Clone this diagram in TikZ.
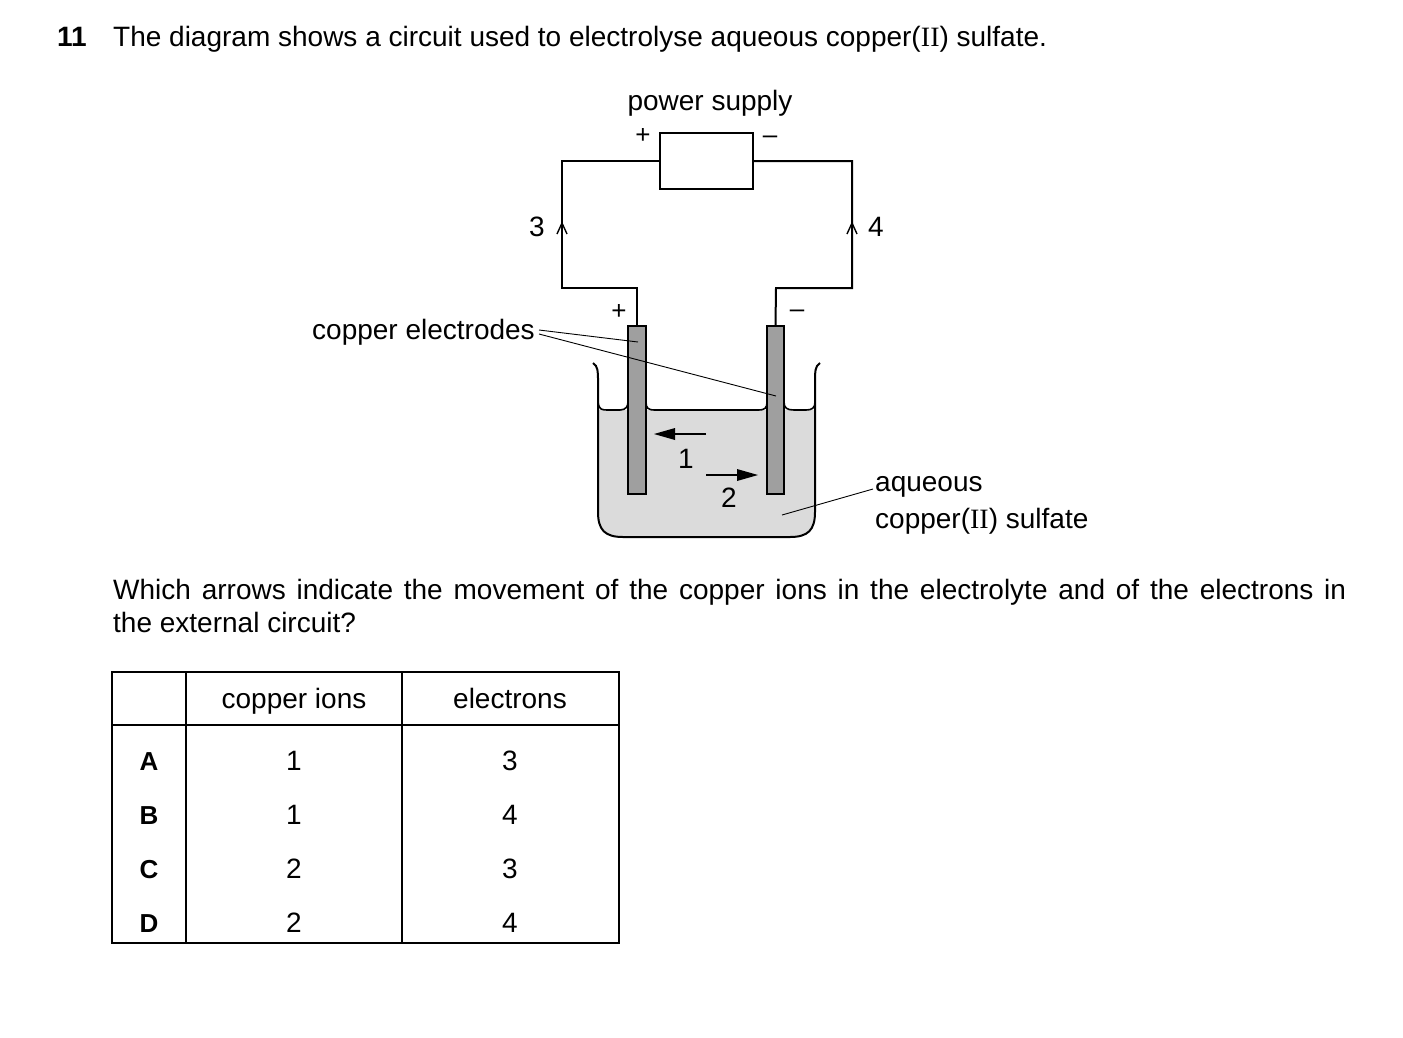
\documentclass[tikz,border=0pt]{standalone}
\usepackage{fontspec}
\setmainfont{Liberation Sans}
\newfontfamily\rmx{Liberation Serif}
\newcommand{\II}{{\rmx II}}
\begin{document}
\begin{tikzpicture}[x=1pt,y=-1pt,
  txt/.style={inner sep=0pt,font=\fontsize{28}{32}\selectfont},
  sm/.style={inner sep=0pt,font=\fontsize{26}{30}\selectfont},
  wire/.style={line width=2pt},
  lead/.style={line width=0.9pt}]
\useasboundingbox (0,0) rectangle (1403,1037);
\fill[white] (0,0) rectangle (1403,1037);
% header
\node[txt,anchor=base west,font=\fontsize{28}{32}\selectfont\bfseries] (q) at (57,46) {11};
\node[txt,anchor=base west] (t1) at (113,46) {The diagram shows a circuit used to electrolyse aqueous copper(\II) sulfate.};
% power supply
\node[draw,wire,minimum width=93pt,minimum height=56pt,inner sep=0pt] (ps) at (706.5,161) {};
\node[txt,anchor=base] (psl) at (710,110) {power supply};
\node[sm,anchor=center] (pp) at (643,136) {+};
\node[sm,anchor=center] (pm) at (770,140) {--};
% beaker liquid
\fill[gray!28] (598,410) -- (815,410) -- (815,512) .. controls (815,530) and (808,537) .. (790,537) -- (623,537) .. controls (605,537) and (598,530) .. (598,512) -- cycle;
\draw[line width=1.6pt] (598,402) .. controls (599,410) and (602,410) .. (608,410) -- (620,410) .. controls (626,410) and (628,406) .. (628,402);
\draw[line width=1.6pt] (646,402) .. controls (646,408) and (648,410) .. (655,410) -- (758,410) .. controls (765,410) and (767,408) .. (767,402);
\draw[line width=1.6pt] (784,402) .. controls (784,408) and (787,410) .. (794,410) -- (806,410) .. controls (812,410) and (815,408) .. (815,402);
\draw[line width=2pt] (593,363) .. controls (598,366) and (598,372) .. (598,380) -- (598,512) .. controls (598,530) and (605,537) .. (623,537) -- (790,537) .. controls (808,537) and (815,530) .. (815,512) -- (815,380) .. controls (815,372) and (815,366) .. (820,363);
% electrodes
\node[draw,line width=1.6pt,fill=gray!75,minimum width=18pt,minimum height=168pt,inner sep=0pt,anchor=north] (e1) at (637,325) {};
\node[draw,line width=1.6pt,fill=gray!75,minimum width=17pt,minimum height=168pt,inner sep=0pt,anchor=north] (e2) at (775.5,325) {};
% wires
\coordinate (w1) at (562,161);
\coordinate (w2) at (562,288);
\coordinate (w3) at (637,288);
\coordinate (w4) at (852,161);
\coordinate (w5) at (852,288);
\coordinate (w6) at (776,288);
\draw[wire] (ps.west) -- (w1) -- (w2) -- (w3) -- (e1.north);
\draw[wire] (ps.east) -- (w4) -- (w5) -- (w6) -- (e2.north);
\draw[line width=1.4pt] (557,234) -- (562,223) -- (567,234);
\draw[line width=1.4pt] (847,234) -- (852,223) -- (857,234);
\node[txt,anchor=center] (l3) at (537,227) {3};
\node[txt,anchor=center] (l4) at (876,227) {4};
\node[sm,anchor=center] (ep) at (619,312) {+};
\node[sm,anchor=center] (em) at (797,314) {--};
% ion arrows
\coordinate (a1s) at (706,434);
\coordinate (a1e) at (654,434);
\coordinate (a2s) at (706,475);
\coordinate (a2e) at (758,475);
\draw[line width=1.6pt] (a1s) -- (675,434);
\fill (a1e) -- (675,428) -- (675,440) -- cycle;
\draw[line width=1.6pt] (a2s) -- (737,475);
\fill (a2e) -- (737,469) -- (737,481) -- cycle;
\node[txt,anchor=center] (l1) at (686,459) {1};
\node[txt,anchor=center] (l2) at (729,498) {2};
% labels
\node[txt,anchor=base east] (ce) at (535,339) {copper electrodes};
\draw[lead] (539,330) -- (638,342);
\draw[lead] (539,334) -- (776,396);
\node[txt,anchor=base west] (aq) at (875,491) {aqueous};
\node[txt,anchor=base west] (aq2) at (875,528) {copper(\II) sulfate};
\draw[lead] (782,515) -- (873,489);
% question
\node[txt,anchor=base west] (qa) at (113,599) {\makebox[1233pt][s]{Which arrows indicate the movement of the copper ions in the electrolyte and of the electrons in}};
\node[txt,anchor=base west] (qb) at (113,632) {the external circuit?};
% table
\draw[line width=1.3pt] (112,672) rectangle (619,943);
\draw[line width=1.3pt] (186,672) -- (186,943);
\draw[line width=1.3pt] (402,672) -- (402,943);
\draw[line width=1.3pt] (112,725) -- (619,725);
\node[txt,anchor=base] (h1) at (294,708) {copper ions};
\node[txt,anchor=base] (h2) at (510,708) {electrons};
\foreach \r/\a/\b/\y in {A/1/3/770,B/1/4/824,C/2/3/878,D/2/4/932}{
  \node[txt,anchor=base,font=\fontsize{26}{30}\selectfont\bfseries] at (149,\y) {\r};
  \node[txt,anchor=base] at (294,\y) {\a};
  \node[txt,anchor=base] at (510,\y) {\b};
}
\end{tikzpicture}
\end{document}
